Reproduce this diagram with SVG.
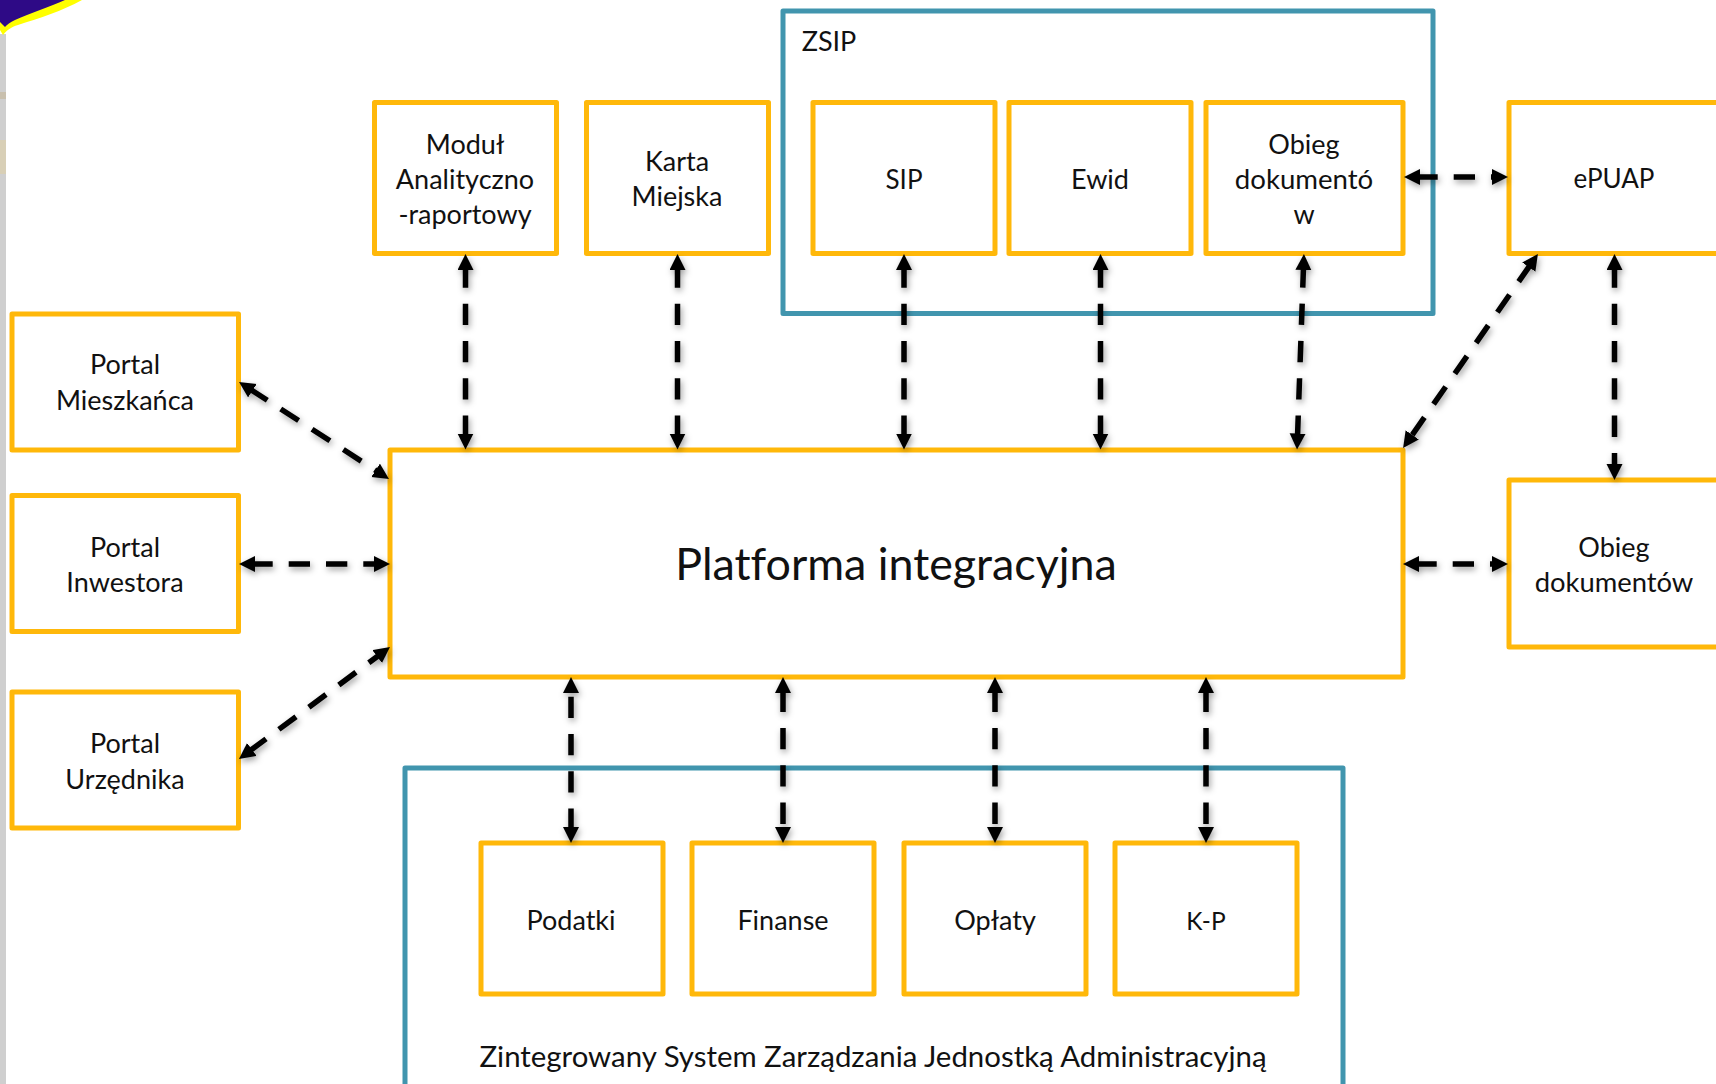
<svg xmlns="http://www.w3.org/2000/svg" width="1716" height="1084" viewBox="0 0 1716 1084">
<style>
.b{fill:#fff;stroke:#ffb80a;stroke-width:5;stroke-linejoin:round}
.g{fill:none;stroke:#4195ae;stroke-width:5;stroke-linejoin:round}
text{font-family:"Lato","Liberation Sans",sans-serif;font-size:27px;fill:#111;text-anchor:middle;font-variant-ligatures:none}
.c line{stroke:#000;stroke-width:5.5;stroke-dasharray:21.3 16;stroke-dashoffset:-2.4;marker-start:url(#a);marker-end:url(#a)}
</style>
<defs>
<marker id="a" markerUnits="userSpaceOnUse" markerWidth="18" markerHeight="18" refX="6" refY="8" orient="auto-start-reverse" viewBox="0 0 18 18"><path d="M0 0L16 8L0 16Z" fill="#000"/></marker>
<filter id="s" x="-20%" y="-20%" width="140%" height="140%"><feDropShadow dx="1.5" dy="3" stdDeviation="3" flood-color="#000" flood-opacity=".38"/></filter>
</defs>
<rect width="1716" height="1084" fill="#fff"/>
<g id="background">
<rect x="0" y="34" width="6" height="1050" fill="#cfcfcf"/>
<rect x="0" y="92" width="6" height="7" fill="#c9c0ae"/>
<rect x="0" y="140" width="6" height="34" fill="#d8cfb6"/>
<path d="M0 0H82C62 11 40 18 18 25C11 27 6 31 3 35L0 30Z" fill="#ffff00"/>
<path d="M0 0H65C50 7 30 13 15 20C10 22 7 25 5 27L0 22Z" fill="#2e0a86"/>
</g>
<g id="zsip"><rect class="g" x="783" y="11" width="650" height="302.5"/><text x="829" y="51">ZSIP</text></g>
<g id="zsja"><rect class="g" x="405" y="768" width="938" height="320"/><text x="873" y="1067" style="font-size:29.4px">Zintegrowany System Zarządzania Jednostką Administracyjną</text></g>
<g id="modul"><rect class="b" x="374.5" y="102.5" width="182" height="151"/><text x="465" y="154">Moduł</text><text x="465" y="189">Analityczno</text><text x="465" y="224">-raportowy</text></g>
<g id="karta"><rect class="b" x="586.5" y="102.5" width="182" height="151"/><text x="677" y="171">Karta</text><text x="677" y="206">Miejska</text></g>
<g id="sip"><rect class="b" x="813" y="102.5" width="182" height="151"/><text x="904" y="189" style="font-size:26px">SIP</text></g>
<g id="ewid"><rect class="b" x="1009" y="102.5" width="182" height="151"/><text x="1100" y="189">Ewid</text></g>
<g id="obieg1"><rect class="b" x="1206" y="102.5" width="197" height="151"/><text x="1304" y="154">Obieg</text><text x="1304" y="189" style="font-size:27.6px">dokumentó</text><text x="1304" y="224">w</text></g>
<g id="epuap"><rect class="b" x="1509" y="102.5" width="230" height="151"/><text x="1614" y="188" style="font-size:26px">ePUAP</text></g>
<g id="portalm"><rect class="b" x="12" y="314" width="226.5" height="136"/><text x="125" y="374">Portal</text><text x="125" y="410">Mieszkańca</text></g>
<g id="portali"><rect class="b" x="12" y="495.5" width="226.5" height="136"/><text x="125" y="557">Portal</text><text x="125" y="592">Inwestora</text></g>
<g id="portalu"><rect class="b" x="12" y="692" width="226.5" height="136"/><text x="125" y="753">Portal</text><text x="125" y="789">Urzędnika</text></g>
<g id="platforma"><rect class="b" x="390" y="450" width="1013" height="227"/><text x="896" y="580" style="font-size:44.8px">Platforma integracyjna</text></g>
<g id="obieg2"><rect class="b" x="1509" y="480" width="230" height="167"/><text x="1614" y="557">Obieg</text><text x="1614" y="592" style="font-size:27.4px">dokumentów</text></g>
<g id="podatki"><rect class="b" x="481" y="843" width="182" height="151"/><text x="571" y="930">Podatki</text></g>
<g id="finanse"><rect class="b" x="692" y="843" width="182" height="151"/><text x="783" y="930">Finanse</text></g>
<g id="oplaty"><rect class="b" x="904" y="843" width="182" height="151"/><text x="995" y="930">Opłaty</text></g>
<g id="kp"><rect class="b" x="1115" y="843" width="182" height="151"/><text x="1206" y="930" style="font-size:24.5px">K-P</text></g>
<g id="connectors" class="c" filter="url(#s)">
<line x1="465.5" y1="264" x2="465.5" y2="439.5"/>
<line x1="677.5" y1="264" x2="677.5" y2="439.5"/>
<line x1="904" y1="264" x2="904" y2="439.5"/>
<line x1="1100.5" y1="264" x2="1100.5" y2="439.5"/>
<line x1="1303.6" y1="264" x2="1297.4" y2="439.5"/>
<line x1="1532.2" y1="262.2" x2="1408.8" y2="439.8"/>
<line x1="1614.5" y1="264" x2="1614.5" y2="470"/>
<line x1="1414" y1="177" x2="1498" y2="177"/>
<line x1="247.4" y1="387.4" x2="380.6" y2="473.6"/>
<line x1="249" y1="564" x2="380" y2="564"/>
<line x1="247" y1="753" x2="382" y2="653"/>
<line x1="1413" y1="564" x2="1498" y2="564"/>
<line x1="571" y1="687" x2="571" y2="833" style="stroke-dashoffset:-9.7"/>
<line x1="783" y1="687" x2="783" y2="833" style="stroke-dashoffset:-3.7"/>
<line x1="995" y1="687" x2="995" y2="833" style="stroke-dashoffset:-3.7"/>
<line x1="1206" y1="687" x2="1206" y2="833" style="stroke-dashoffset:-3.7"/>
</g>
</svg>
